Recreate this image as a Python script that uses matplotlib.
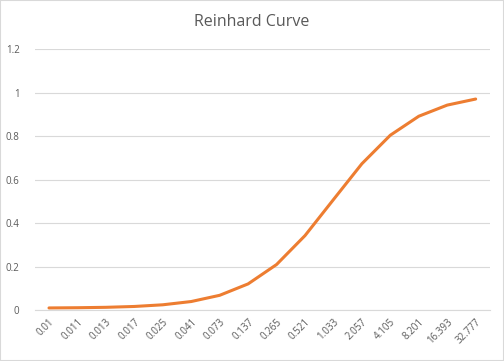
import numpy as np
import matplotlib.pyplot as plt

categories = ['0.01', '0.011', '0.013', '0.017', '0.025', '0.041', '0.073', '0.137',
              '0.265', '0.521', '1.033', '2.057', '4.105', '8.201', '16.393', '32.777']
values = [0.0099, 0.0109, 0.0128, 0.0167, 0.0244, 0.0394, 0.068, 0.1205,
          0.2095, 0.3425, 0.5081, 0.6729, 0.8041, 0.8913, 0.9425, 0.9704]
yticks = [0, 0.2, 0.4, 0.6, 0.8, 1, 1.2]
ylabels = ['0', '0.2', '0.4', '0.6', '0.8', '1', '1.2']

plt.rcParams['font.family'] = ['Open Sans', 'DejaVu Sans']
grey = '#595959'

fig = plt.figure(figsize=(5.04, 3.61), dpi=100)
fig.patches.append(plt.Rectangle((0, 0), 1, 1, transform=fig.transFigure,
                                 fill=False, edgecolor='#d9d9d9', linewidth=1.5))
ax = fig.add_axes([0.069, 0.141, 0.903, 0.723])

x = np.arange(len(categories))
ax.plot(x, values, color='#ED7D31', linewidth=2.2, solid_capstyle='round')

ax.set_xlim(-0.5, len(categories) - 0.5)
ax.set_ylim(0, 1.2)
ax.set_yticks(yticks)
ax.set_yticklabels(ylabels)
ax.set_xticks(x)
ax.set_xticklabels(categories, rotation=45, ha='right', rotation_mode='anchor')
ax.tick_params(axis='both', length=0, labelsize=7, colors=grey)
ax.tick_params(axis='y', pad=11)
ax.tick_params(axis='x', pad=5)

ax.grid(axis='y', color='#d9d9d9', linewidth=0.8)
ax.set_axisbelow(True)
for s in ['top', 'right', 'left']:
    ax.spines[s].set_visible(False)
ax.spines['bottom'].set_color('#d9d9d9')
ax.spines['bottom'].set_linewidth(0.8)

fig.text(0.5, 0.939, 'Reinhard Curve', ha='center', va='center', fontsize=11.5, color=grey)

fig.savefig('out.png', dpi=100)
